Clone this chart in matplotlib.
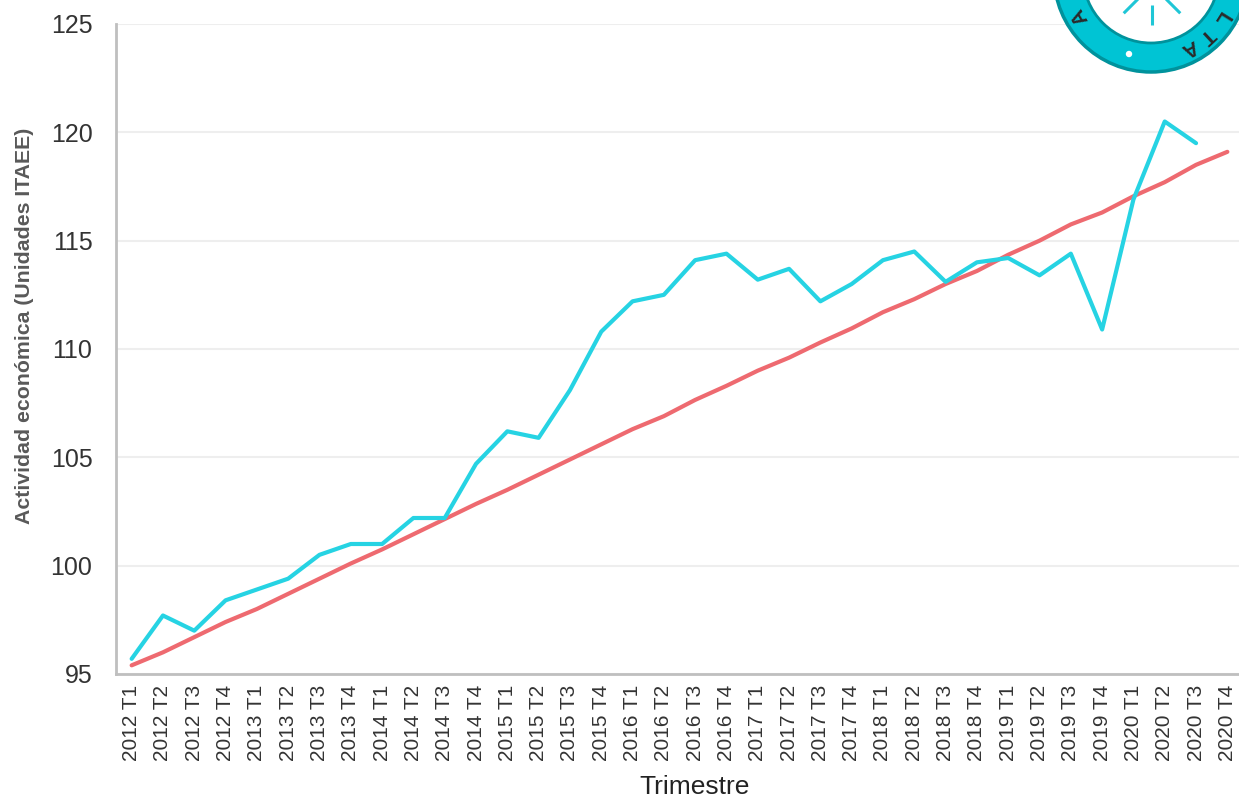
import numpy as np
import matplotlib.pyplot as plt
from matplotlib.patches import Circle

plt.rcParams['font.family'] = ['Liberation Sans', 'DejaVu Sans']

# Trimestres 2012 T1 .. 2020 T4
trimestres = [f'{a} T{q}' for a in range(2012, 2021) for q in range(1, 5)]

# Actividad económica observada (hasta 2020 T3)
actividad = [95.7, 97.7, 97.0, 98.4, 98.9, 99.4, 100.5, 101.0,
             101.0, 102.2, 102.2, 104.7, 106.2, 105.9, 108.1, 110.8,
             112.2, 112.5, 114.1, 114.4, 113.2, 113.7, 112.2, 113.0,
             114.1, 114.5, 113.1, 114.0, 114.2, 113.4, 114.4, 110.9,
             116.9, 120.5, 119.5]

# Tendencia
tendencia = [95.4, 96.0, 96.7, 97.4, 98.0, 98.7, 99.4, 100.1,
             100.75, 101.45, 102.15, 102.85, 103.5, 104.2, 104.9, 105.6,
             106.3, 106.9, 107.65, 108.3, 109.0, 109.6, 110.3, 110.95,
             111.7, 112.3, 113.0, 113.6, 114.35, 115.0, 115.75, 116.3,
             117.05, 117.7, 118.5, 119.1]

if __name__ == "__main__":
    fig = plt.figure(figsize=(12.39, 7.99), dpi=100)
    ax = fig.add_axes([116 / 1239, 125 / 799, 1127 / 1239, 650 / 799])

    x_obs = np.arange(len(actividad))
    x_tend = np.arange(len(tendencia))

    ax.plot(x_tend, tendencia, color='#EE6A70', lw=3,
            solid_capstyle='round', solid_joinstyle='round', zorder=3)
    ax.plot(x_obs, actividad, color='#26D3E3', lw=3,
            solid_capstyle='round', solid_joinstyle='round', zorder=4)

    ax.set_xlim(-0.5, len(trimestres) - 0.5)
    ax.set_ylim(95, 125)
    ax.set_yticks(range(95, 126, 5))
    ax.set_xticks(np.arange(len(trimestres)))
    ax.set_xticklabels(trimestres, rotation=90, fontsize=15, color='#333333')
    ax.tick_params(axis='y', labelsize=18, colors='#333333', length=0, pad=17)
    ax.tick_params(axis='x', length=0, pad=8)

    ax.grid(axis='y', color='#EEEEEE', lw=1.5)
    ax.set_axisbelow(True)
    for s in ['top', 'right']:
        ax.spines[s].set_visible(False)
    for s in ['left', 'bottom']:
        ax.spines[s].set_color('#BFBFBF')
        ax.spines[s].set_linewidth(2)

    ax.set_xlabel('Trimestre', fontsize=19, color='#222222')
    ax.xaxis.set_label_coords(0.513, -0.155)
    ax.set_ylabel('Actividad económica (Unidades ITAEE)', fontsize=15.3,
                  fontweight='bold', color='#595959')
    ax.yaxis.set_label_coords(-0.073, 0.535)

    # Logo (decorative) in the upper right corner, drawn in pixel coords
    ov = fig.add_axes([0, 0, 1, 1], zorder=10)
    ov.set_xlim(0, 1239)
    ov.set_ylim(799, 0)
    ov.axis('off')
    cx, cy = 1151, -25
    ov.add_patch(Circle((cx, cy), 97, facecolor='#00C4D4',
                        edgecolor='#00929C', lw=2.5))
    ov.add_patch(Circle((cx, cy), 68, facecolor='white',
                        edgecolor='#00929C', lw=2))
    ov.add_patch(Circle((1129, 54), 3.2, facecolor='white', edgecolor='none'))

    # sun
    sx, sy = 1152, -15
    ov.add_patch(Circle((sx, sy), 13, facecolor='#1FC6D6', edgecolor='none'))
    for ang in [180, 225, 270, 315, 360]:
        a = np.deg2rad(ang)
        ov.plot([sx + 20 * np.cos(a), sx + 40 * np.cos(a)],
                [sy - 20 * np.sin(a), sy - 40 * np.sin(a)],
                color='#1FC6D6', lw=2.2, solid_capstyle='butt')

    # letters along the ring, tops pointing outward
    for ch, ang in [('A', 210), ('L', -32), ('T', -47), ('A', -62)]:
        a = np.deg2rad(ang)
        r = 82
        px = cx + r * np.cos(a)
        py = cy - r * np.sin(a)
        ov.text(px, py, ch, fontsize=15, fontweight='bold', color='#2A2A2A',
                rotation=ang - 90, rotation_mode='anchor',
                ha='center', va='center')

    plt.savefig('out.png', dpi=100)
